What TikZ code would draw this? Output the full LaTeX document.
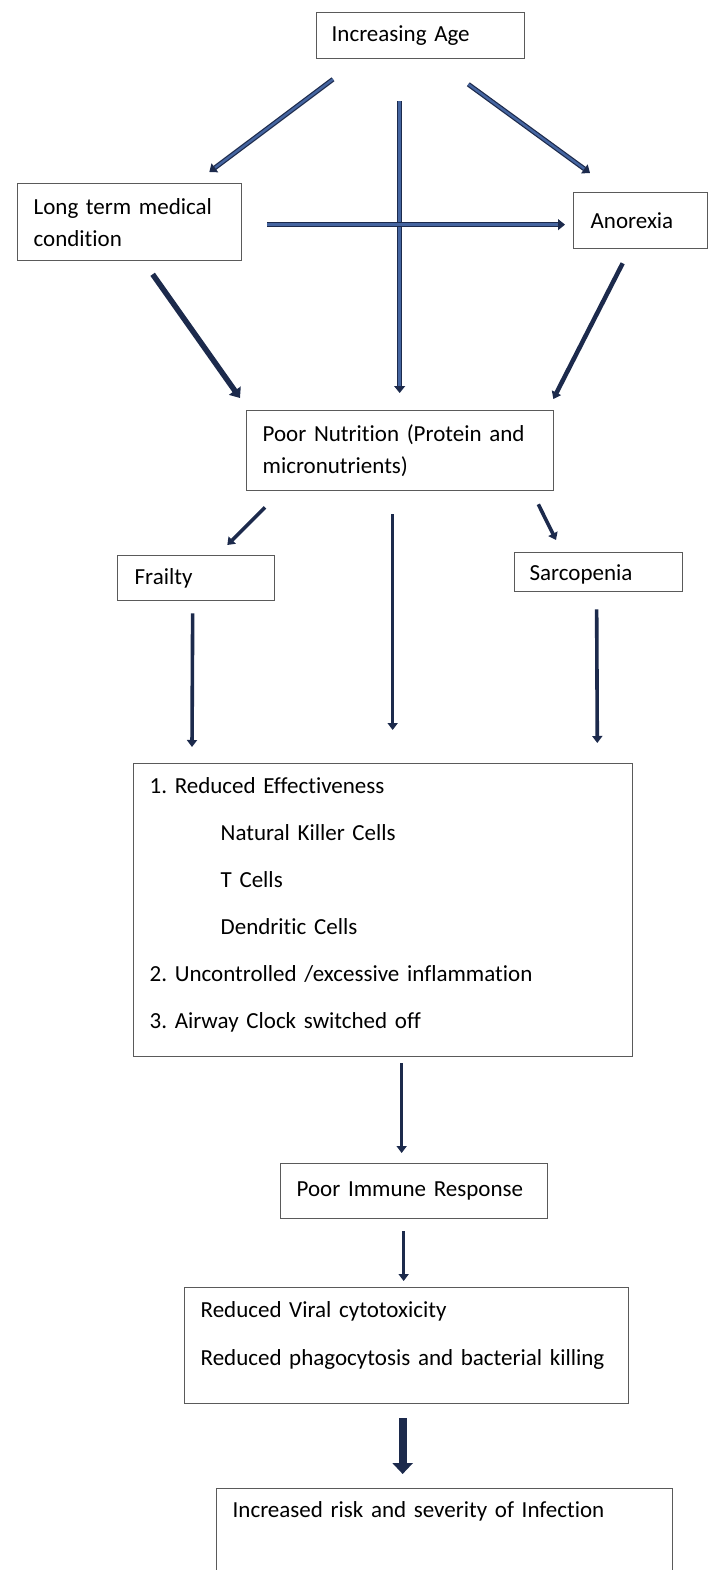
\documentclass[tikz,border=0pt]{standalone}
\usepackage{fontspec}
\setmainfont{Carlito}[Ligatures = NoCommon]
\usepackage{tikz}
\usetikzlibrary{arrows.meta,calc}
\definecolor{arrowdark}{HTML}{1C2A4C}
\definecolor{arrowlight}{HTML}{4565A0}
\definecolor{boxline}{HTML}{5A5A5A}

\begin{document}
\begin{tikzpicture}
[x = 1pt, y = -1pt]
\tikzset{
	box/.style = {draw = boxline, line width = 1.3pt, anchor = north west, align = left, inner ysep = 0pt, font = \fontsize{23}{32}\selectfont\frenchspacing},
	hollow arrow/.style = {draw = arrowdark, line width = 1.2pt, double = arrowlight, double distance = 2.4pt, -{Triangle[length = 7pt, width = 11pt]}},
	solid arrow/.style = {draw = arrowdark, line width = 3.6pt, -{Triangle[length = 7pt, width = 10pt]}},
	heavy arrow/.style = {draw = arrowdark, line width = 8pt, -{Triangle[length = 11pt, width = 20pt]}},
}
\useasboundingbox (0,0) rectangle (708,1570);

% boxes
\node(age)[box, inner xsep = 15pt, text width = 178pt, minimum height = 46pt] at (316,12) {Increasing Age};
\node(ltmc)[box, inner xsep = 16pt, text width = 192pt, minimum height = 77pt] at (17,183) {Long term medical\\condition};
\node(anor)[box, inner xsep = 17pt, text width = 100pt, minimum height = 56pt] at (573,192) {Anorexia};
\node(nutr)[box, inner xsep = 16pt, text width = 275pt, minimum height = 80pt] at (246,410) {Poor Nutrition (Protein and\\micronutrients)};
\node(frail)[box, inner xsep = 17pt, text width = 123pt, minimum height = 45pt] at (117,555) {Frailty};
\node(sarc)[box, inner xsep = 15pt, text width = 138pt, minimum height = 39pt, text depth = 0pt] at (514,552) {Sarcopenia};
\node(cells)[box, inner xsep = 16pt, text width = 467pt, minimum height = 293pt, text height = 16pt, text depth = 249pt, font = \fontsize{23}{47}\selectfont\frenchspacing] at (133,763) {1. Reduced Effectiveness\\
	\hspace*{71pt}Natural Killer Cells\\
	\hspace*{71pt}T Cells\\
	\hspace*{71pt}Dendritic Cells\\
	2. Uncontrolled /excessive inflammation\\
	3. Airway Clock switched off};
\node(immune)[box, inner xsep = 16pt, text width = 235pt, minimum height = 55pt] at (280,1163) {Poor Immune Response};
\node(viral)[box, inner xsep = 16pt, text width = 412pt, minimum height = 116pt, text height = 16pt, text depth = 72pt, font = \fontsize{23}{48}\selectfont\frenchspacing] at (184,1287) {Reduced Viral cytotoxicity\\Reduced phagocytosis and bacterial killing};
\node(infect)[box, inner xsep = 16pt, inner ysep = 12pt, text width = 424pt, text height = 17pt, text depth = 100pt] at (216,1488) {Increased risk and severity of Infection};

% arrows
\draw[hollow arrow] ($(age.south west)+(17,20)$) -- ($(ltmc.north east)+(-33,-11)$);
\draw[hollow arrow] ($(age.south east)+(-57,25)$) -- ($(anor.north west)+(17,-19)$);
\draw[hollow arrow] ($(age.south)+(-21,42)$) -- ($(nutr.north)+(-0.5,-17)$);
\draw[hollow arrow] ($(ltmc.east)+(25,2.5)$) -- ($(anor.west)+(-8,4)$);
\draw[solid arrow, line width = 5.5pt, -{Triangle[length = 9pt, width = 14pt]}] ($(ltmc.south)+(23,13)$) -- ($(nutr.north west)+(-6,-12)$);
\draw[solid arrow, line width = 4.5pt] ($(anor.south)+(-18,14)$) -- ($(nutr.north east)+(-1,-11)$);
\draw[solid arrow] ($(nutr.south west)+(19,16)$) -- ($(frail.north east)+(-48,-10)$);
\draw[solid arrow] ($(nutr.south)+(-7.5,23)$) -- ($(cells.north)+(9.5,-33)$);
\draw[solid arrow] ($(nutr.south east)+(-16,13)$) -- ($(sarc.north west)+(42,-12)$);
\draw[solid arrow] ($(frail.south)+(-3.5,12)$) -- ($(cells.north west)+(59,-16)$);
\draw[solid arrow] ($(sarc.south)+(-2,17)$) -- ($(cells.north east)+(-36,-20)$);
\draw[solid arrow] ($(cells.south)+(18.5,6)$) -- ($(immune.north)+(-12.5,-10)$);
\draw[solid arrow] ($(immune.south)+(-10.5,12)$) -- ($(viral.north)+(-3,-6)$);
\draw[heavy arrow] ($(viral.south)+(-4,14)$) -- ($(infect.north)+(-42,-14)$);

\end{tikzpicture}
\end{document}
